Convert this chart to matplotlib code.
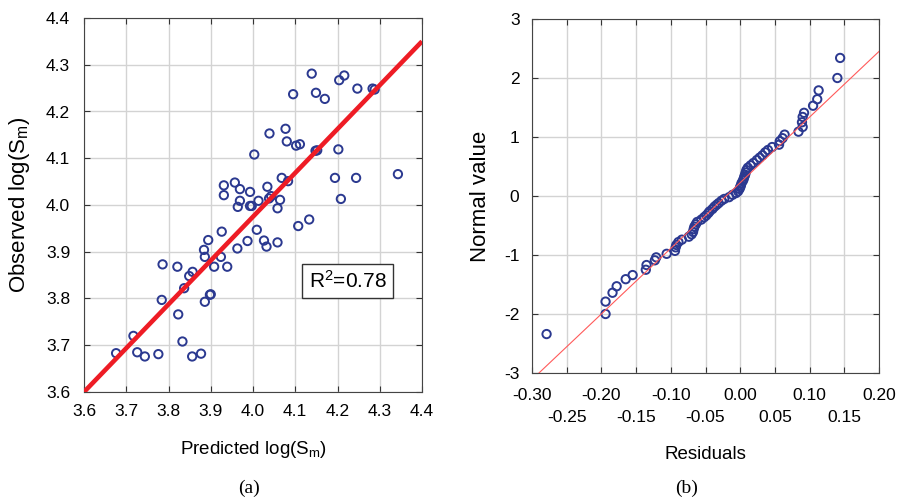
import numpy as np
import matplotlib
matplotlib.use('Agg')
import matplotlib.pyplot as plt
from matplotlib.ticker import MultipleLocator, FixedLocator, FixedFormatter, FormatStrFormatter

plt.rcParams['font.family'] = ['Liberation Sans', 'DejaVu Sans']
plt.rcParams['mathtext.fontset'] = 'custom'
plt.rcParams['mathtext.rm'] = 'Liberation Sans'
plt.rcParams['mathtext.it'] = 'Liberation Sans'
plt.rcParams['axes.unicode_minus'] = False

# (a) predicted vs observed log(Sm)
predicted = [4.139, 4.204, 4.216, 4.247, 4.283, 4.288, 4.095, 4.149, 4.170, 4.077,
             4.039, 4.080, 4.102, 4.111, 4.148, 4.152, 4.202, 4.003, 4.343, 4.068,
             4.083, 4.194, 4.244, 3.931, 3.957, 3.969, 3.993, 4.034, 3.931, 3.969,
             3.964, 3.993, 3.997, 4.013, 4.038, 4.043, 4.064, 4.058, 4.208, 4.107,
             4.133, 3.926, 4.009, 3.894, 3.987, 4.026, 4.032, 4.058, 3.963, 3.884,
             3.886, 3.924, 3.676, 3.717, 3.726, 3.744, 3.776, 3.786, 3.784, 3.821,
             3.823, 3.837, 3.833, 3.849, 3.857, 3.856, 3.877, 3.886, 3.898, 3.900,
             3.908, 3.939]
observed = [4.281, 4.267, 4.277, 4.249, 4.249, 4.247, 4.237, 4.240, 4.227, 4.163,
            4.153, 4.136, 4.127, 4.130, 4.116, 4.117, 4.119, 4.108, 4.066, 4.058,
            4.051, 4.058, 4.058, 4.042, 4.048, 4.034, 4.028, 4.039, 4.021, 4.009,
            3.996, 3.998, 3.998, 4.009, 4.014, 4.019, 4.011, 3.993, 4.013, 3.955,
            3.969, 3.943, 3.947, 3.925, 3.923, 3.924, 3.911, 3.920, 3.907, 3.904,
            3.889, 3.889, 3.683, 3.720, 3.685, 3.676, 3.681, 3.873, 3.797, 3.868,
            3.766, 3.822, 3.708, 3.848, 3.857, 3.676, 3.682, 3.793, 3.808, 3.809,
            3.868, 3.868]
fit_x = [3.6, 4.4]
fit_y = [3.6, 4.35]
r2_text = 'R$^2$=0.78'

# (b) normal probability plot of residuals
residuals = [-0.279, -0.194, -0.194, -0.184, -0.178, -0.165, -0.155, -0.136, -0.135, -0.123,
             -0.121, -0.106, -0.094, -0.093, -0.092, -0.089, -0.084, -0.074, -0.070, -0.068,
             -0.067, -0.066, -0.064, -0.062, -0.056, -0.052, -0.049, -0.046, -0.044, -0.040,
             -0.037, -0.034, -0.031, -0.027, -0.023, -0.016,
             -0.011, -0.006, -0.003, -0.001, 0.000, 0.001, 0.002, 0.004, 0.005, 0.006,
             0.007, 0.008, 0.009, 0.011, 0.015, 0.019, 0.024, 0.028, 0.032, 0.036,
             0.040, 0.046, 0.056, 0.057, 0.061, 0.064, 0.084, 0.090, 0.089, 0.090,
             0.092, 0.105, 0.111, 0.113, 0.140, 0.144]
normal_value = [-2.34, -2.00, -1.79, -1.64, -1.53, -1.41, -1.34, -1.25, -1.17, -1.09,
                -1.04, -0.98, -0.93, -0.87, -0.83, -0.78, -0.74, -0.69, -0.65, -0.61,
                -0.56, -0.52, -0.48, -0.44, -0.40, -0.36, -0.33, -0.29, -0.26, -0.22,
                -0.18, -0.15, -0.12, -0.08, -0.05, -0.02,
                0.02, 0.05, 0.08, 0.12, 0.15, 0.18, 0.22, 0.26, 0.29, 0.33,
                0.36, 0.40, 0.44, 0.48, 0.52, 0.56, 0.61, 0.65, 0.69, 0.74,
                0.78, 0.83, 0.87, 0.93, 0.98, 1.04, 1.09, 1.17, 1.25, 1.34,
                1.41, 1.53, 1.64, 1.79, 2.00, 2.34]
ref_x = [-0.29, 0.20]
ref_y = [-3.0, 2.45]
res_ticks_top = [-0.30, -0.20, -0.10, 0.00, 0.10, 0.20]
res_ticks_low = [-0.25, -0.15, -0.05, 0.05, 0.15]
res_labels_top = ['-0.30', '-0.20', '-0.10', '0.00', '0.10', '0.20']
res_labels_low = ['-0.25', '-0.15', '-0.05', '0.05', '0.15']

blue = '#2b3990'
grid_c = '#d3d3d3'
tick_fs = 12.5

fig = plt.figure(figsize=(9.02, 5.0), dpi=100)
ax1 = fig.add_axes([84 / 902, 108 / 500, 338 / 902, 374 / 500])
ax2 = fig.add_axes([532 / 902, 127 / 500, 347 / 902, 354 / 500])

for ax in (ax1, ax2):
    ax.set_axisbelow(True)
    for s in ax.spines.values():
        s.set_color('#444444')
        s.set_linewidth(0.8)
    ax.tick_params(which='both', direction='in', top=True, right=True, length=4,
                   width=0.8, color='#333333', labelsize=tick_fs)

# left panel
ax1.grid(True, color=grid_c, linewidth=1.0)
ax1.scatter(predicted, observed, s=36, facecolors='none', edgecolors=blue,
            linewidths=1.4, zorder=3)
ax1.plot(fit_x, fit_y, color='#ee1c25', linewidth=3.3, zorder=4, solid_capstyle='butt')
ax1.set_xlim(3.6, 4.4)
ax1.set_ylim(3.6, 4.4)
ax1.xaxis.set_major_locator(MultipleLocator(0.1))
ax1.yaxis.set_major_locator(MultipleLocator(0.1))
ax1.xaxis.set_major_formatter(FormatStrFormatter('%.1f'))
ax1.yaxis.set_major_formatter(FormatStrFormatter('%.1f'))
ax1.tick_params(axis='x', pad=9)
ax1.tick_params(axis='y', pad=10)
ax1.set_xlabel(r'Predicted log(S$_{\mathrm{m}}$)', fontsize=13.5)
ax1.set_ylabel(r'Observed log(S$_{\mathrm{m}}$)', fontsize=16)
ax1.xaxis.set_label_coords(0.5, -0.125)
ax1.yaxis.set_label_coords(-0.155, 0.5)
ax1.text(0.78, 0.297, r2_text, transform=ax1.transAxes, ha='center', va='center',
         fontsize=15, zorder=5,
         bbox=dict(boxstyle='square,pad=0.3', facecolor='white', edgecolor='#333333',
                   linewidth=1.0))

# right panel
ax2.grid(True, which='both', color=grid_c, linewidth=1.0)
ax2.scatter(residuals, normal_value, s=36, facecolors='none', edgecolors=blue,
            linewidths=1.4, zorder=3)
ax2.plot(ref_x, ref_y, color='#ff5a5a', linewidth=0.8, zorder=4)
ax2.set_xlim(-0.30, 0.20)
ax2.set_ylim(-3, 3)
ax2.xaxis.set_major_locator(FixedLocator(res_ticks_top))
ax2.xaxis.set_major_formatter(FixedFormatter(res_labels_top))
ax2.xaxis.set_minor_locator(FixedLocator(res_ticks_low))
ax2.xaxis.set_minor_formatter(FixedFormatter(res_labels_low))
ax2.yaxis.set_major_locator(MultipleLocator(1))
ax2.tick_params(axis='x', which='major', pad=11)
ax2.tick_params(axis='x', which='minor', pad=27)
ax2.tick_params(axis='y', pad=9)
ax2.set_xlabel('Residuals', fontsize=13.5)
ax2.set_ylabel('Normal value', fontsize=16)
ax2.xaxis.set_label_coords(0.5, -0.205)
ax2.yaxis.set_label_coords(-0.118, 0.5)

fig.text(249 / 902, 1 - 488 / 500, '(a)', ha='center', va='center',
         family=['Liberation Serif', 'DejaVu Serif'], fontsize=14)
fig.text(687 / 902, 1 - 488 / 500, '(b)', ha='center', va='center',
         family=['Liberation Serif', 'DejaVu Serif'], fontsize=14)

fig.savefig('out.png', dpi=100)
